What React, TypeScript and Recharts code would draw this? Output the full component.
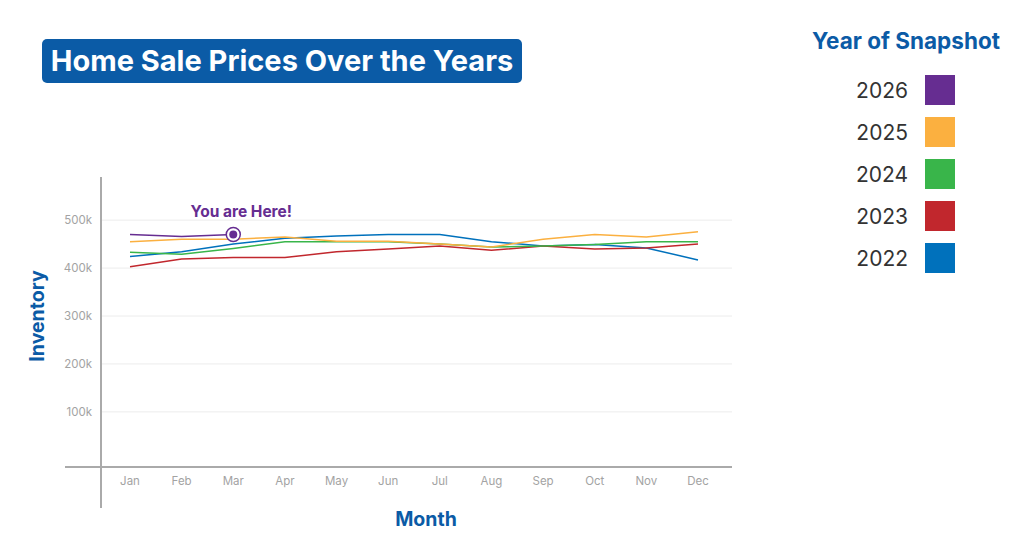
import { LineChart, Line, XAxis, YAxis, CartesianGrid } from 'recharts';

const months = ['Jan', 'Feb', 'Mar', 'Apr', 'May', 'Jun', 'Jul', 'Aug', 'Sep', 'Oct', 'Nov', 'Dec'];
const yTicks = [100000, 200000, 300000, 400000, 500000];

const sales2026 = [470000, 466000, 470000];
const sales2025 = [455000, 460000, 460000, 465000, 456000, 456000, 450000, 444000, 460000, 470000, 465000, 476000];
const sales2024 = [433000, 429000, 441000, 455000, 455000, 455000, 450000, 444000, 446000, 449000, 455000, 455000];
const sales2023 = [403000, 419000, 422000, 422000, 434000, 440000, 446000, 437000, 446000, 440000, 442000, 450000];
const sales2022 = [424000, 434000, 450000, 462000, 467000, 470000, 470000, 455000, 446000, 449000, 442000, 417000];

const series = [
    { key: 'y2026', year: '2026', color: '#662d91', values: sales2026 },
    { key: 'y2025', year: '2025', color: '#fbb040', values: sales2025 },
    { key: 'y2024', year: '2024', color: '#39b54a', values: sales2024 },
    { key: 'y2023', year: '2023', color: '#c1272d', values: sales2023 },
    { key: 'y2022', year: '2022', color: '#0071bc', values: sales2022 },
];

const data = months.map((m, i) => {
    const row: Record<string, string | number> = { month: m };
    series.forEach(s => {
        if (i < s.values.length) row[s.key] = s.values[i];
    });
    return row;
});

const BLUE = '#0b5ba6';
const FONT = 'Inter, "Open Sans", sans-serif';

function HereDot(props: any) {
    const { cx, cy, index } = props;
    if (index !== sales2026.length - 1) return null;
    return (
        <g>
            <circle cx={cx} cy={cy} r={7} fill="#fff" stroke="#662d91" strokeWidth={1.5} />
            <circle cx={cx} cy={cy} r={4} fill="#662d91" />
            <text x={cx + 8} y={cy - 18} textAnchor="middle" fill="#662d91" fontSize={15.5} fontWeight={700} fontFamily={FONT}>
                You are Here!
            </text>
        </g>
    );
}

export default function App() {
    return (
        <div style={{ position: 'absolute', left: 0, top: 0, width: 1024, height: 550, background: '#fff', fontFamily: FONT }}>
            <div style={{ position: 'absolute', left: 42, top: 39, width: 480, height: 44, background: BLUE, borderRadius: 5, color: '#fff', fontSize: 29, fontWeight: 700, lineHeight: '44px', textAlign: 'center', whiteSpace: 'nowrap' }}>
                Home Sale Prices Over the Years
            </div>

            <LineChart width={760} height={550} data={data} margin={{ top: 177, right: 28, bottom: 53, left: 61 }} style={{ position: 'absolute', left: 0, top: 0 }}>
                <CartesianGrid vertical={false} horizontalValues={yTicks} stroke="#ececec" />
                <XAxis dataKey="month" axisLine={false} tickLine={false} tickSize={0} tickMargin={10} height={30}
                    padding={{ left: 29, right: 34 }} tick={{ fill: '#a3a3a3', fontSize: 11.5, fontFamily: FONT }} interval={0} />
                <YAxis domain={[-15000, 590000]} ticks={yTicks} width={40} axisLine={false} tickLine={false} tickSize={0} tickMargin={9}
                    tickFormatter={(v: number) => `${v / 1000}k`} tick={{ fill: '#a3a3a3', fontSize: 11.5, fontFamily: FONT }} />
                {series.slice().reverse().map(s => (
                    <Line key={s.key} type="linear" dataKey={s.key} stroke={s.color} strokeWidth={1.5}
                        dot={s.key === 'y2026' ? <HereDot /> : false} activeDot={false} isAnimationActive={false} />
                ))}
            </LineChart>

            <div style={{ position: 'absolute', left: 100, top: 177, width: 1.5, height: 331, background: '#aaa' }} />
            <div style={{ position: 'absolute', left: 65, top: 466, width: 667, height: 2, background: '#aaa' }} />

            <div style={{ position: 'absolute', left: 37, top: 316, transform: 'translate(-50%, -50%) rotate(-90deg)', color: BLUE, fontSize: 19.5, fontWeight: 700, whiteSpace: 'nowrap' }}>
                Inventory
            </div>
            <div style={{ position: 'absolute', left: 426, top: 519, transform: 'translate(-50%, -50%)', color: BLUE, fontSize: 19.5, fontWeight: 700 }}>
                Month
            </div>

            <div style={{ position: 'absolute', left: 906, top: 40, transform: 'translate(-50%, -50%)', color: BLUE, fontSize: 22.5, fontWeight: 700, whiteSpace: 'nowrap' }}>
                Year of Snapshot
            </div>
            {series.map((s, i) => (
                <div key={s.key} style={{ position: 'absolute', left: 850, top: 75 + i * 42, height: 30, display: 'flex', alignItems: 'center' }}>
                    <span style={{ width: 58, fontSize: 21, color: '#333', textAlign: 'right', marginRight: 17 }}>{s.year}</span>
                    <span style={{ width: 30, height: 30, background: s.color, display: 'inline-block' }} />
                </div>
            ))}
        </div>
    );
}
